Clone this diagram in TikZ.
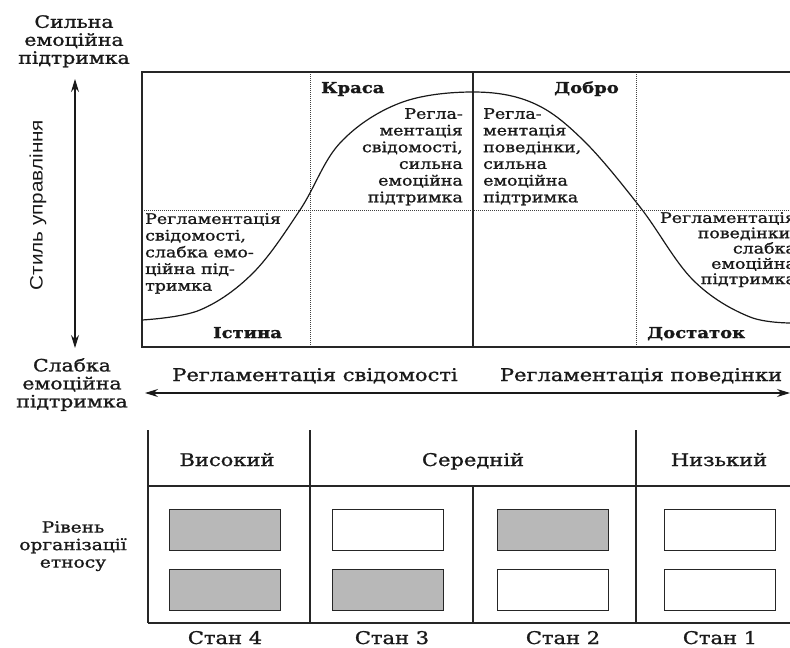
\documentclass[tikz,border=0pt]{standalone}
\usepackage{fontspec}
\setmainfont{DejaVu Serif}[FakeStretch=1.2,FakeBold=1.2]
\newfontfamily\stylefont{Liberation Sans}[FakeStretch=1.15]
\usetikzlibrary{arrows.meta,positioning}
\tikzset{
  x=1pt,
  y=-1pt,
  frame/.style={line width=1.3pt,draw=black!85},
  dotline/.style={densely dotted,line width=1pt,draw=black!75},
  curve/.style={line width=1.2pt,draw=black!90},
  blocktext/.style={inner sep=0pt,text=black!90,
   font=\fontsize{14.5}{16.7}\selectfont},
  title/.style={inner sep=0pt,text=black!90,
   font=\fontsize{15}{18}\selectfont\bfseries},
  sidelbl/.style={inner sep=0pt,align=center,anchor=north,text=black!90,
   font=\fontsize{17}{18}\selectfont},
  axislbl/.style={inner sep=0pt,anchor=base,text=black!90,
   font=\fontsize{17.5}{20}\selectfont},
  dblarrow/.style={{Stealth[length=13pt,width=8pt]}-{Stealth[length=13pt,width=8pt]},
   line width=1.1pt,draw=black!90},
  cell/.style={draw=black!85,line width=1.3pt,minimum width=111pt,
   minimum height=41pt,inner sep=0pt},
  fullcell/.style={cell,fill=black!28},
  emptycell/.style={cell,fill=white}
}
\begin{document}
\begin{tikzpicture}
  \useasboundingbox (0,0) rectangle (790,648);
  \clip (0,0) rectangle (790,648);

  % upper field
  \draw[dotline] (142,210) -- (800,210);
  \draw[dotline] (310,72) -- (310,347);
  \draw[dotline] (636,72) -- (636,347);
  \draw[frame] (473,72) -- (473,347);
  \draw[frame] (800,72) -- (142,72) -- (142,347) -- (800,347);
  \draw[curve] plot[smooth,tension=0.6] coordinates {(142,320) (200,310)
    (253,273) (300,210) (340,143) (400,103) (473,92) (533,103) (583,140)
    (640,207) (693,280) (750,317) (800,323)};

  \node[title,anchor=base west] (krasa) at (321,93) {Краса};
  \node[title,anchor=base east] (dobro) at (619,93) {Добро};
  \node[title,anchor=base west] (istyna) at (213,338) {Істина};
  \node[title,anchor=base west] (dostatok) at (647,338) {Достаток};

  \node[blocktext,anchor=north east,align=right] (svstrong) at (463,108)
    {Регла-\\ментація\\свідомості,\\сильна\\емоційна\\підтримка};
  \node[blocktext,anchor=north west,align=left] (povstrong) at (483,108)
    {Регла-\\ментація\\поведінки,\\сильна\\емоційна\\підтримка};
  \node[blocktext,anchor=north west,align=left] (svweak) at (145,213)
    {Регламентація\\свідомості,\\слабка емо-\\ційна під-\\тримка};
  \node[blocktext,anchor=north east,align=right,
    font=\fontsize{14.5}{15.3}\selectfont] (povweak) at (796,212)
    {Регламентація\\поведінки,\\слабка\\емоційна\\підтримка};

  % axes
  \node[sidelbl] (strong) at (74,15) {Сильна\\емоційна\\підтримка};
  \node[sidelbl] (weak) at (72,358) {Слабка\\емоційна\\підтримка};
  \node[inner sep=0pt,rotate=90,text=black!90,
    font=\stylefont\fontsize{18}{20}\selectfont] (stylelbl) at (38,205)
    {Стиль управління};
  \coordinate (vtop) at (75,79);
  \coordinate (vbot) at (75,348);
  \draw[dblarrow] (vtop) -- (vbot);
  \coordinate (hleft) at (145,393);
  \coordinate (hright) at (790,393);
  \draw[dblarrow] (hleft) -- (hright);
  \node[axislbl] (regsv) at (315,381) {Регламентація свідомості};
  \node[axislbl] (regpov) at (641,381) {Регламентація поведінки};

  % lower table
  \draw[frame] (148,430) -- (148,623);
  \draw[frame] (310,430) -- (310,623);
  \draw[frame] (636,430) -- (636,623);
  \draw[frame] (473,486) -- (473,623);
  \draw[frame] (148,486) -- (800,486);
  \draw[frame] (148,623) -- (800,623);

  \node[axislbl] (high) at (227,466) {Високий};
  \node[axislbl] (mid) at (473,466) {Середній};
  \node[axislbl] (low) at (719,466) {Низький};

  \node[sidelbl,font=\fontsize{15.5}{17.5}\selectfont] (level) at (73,521)
    {Рівень\\організації\\етносу};

  \node[fullcell] (c4a) at (225,530) {};
  \node[fullcell,below=18pt of c4a] (c4b) {};
  \node[emptycell] (c3a) at (388,530) {};
  \node[fullcell,below=18pt of c3a] (c3b) {};
  \node[fullcell] (c2a) at (553,530) {};
  \node[emptycell,below=18pt of c2a] (c2b) {};
  \node[emptycell] (c1a) at (720,530) {};
  \node[emptycell,below=18pt of c1a] (c1b) {};

  \node[axislbl] (st4) at (225,644) {Стан 4};
  \node[axislbl] (st3) at (392,644) {Стан 3};
  \node[axislbl] (st2) at (563,644) {Стан 2};
  \node[axislbl] (st1) at (720,644) {Стан 1};
\end{tikzpicture}
\end{document}
